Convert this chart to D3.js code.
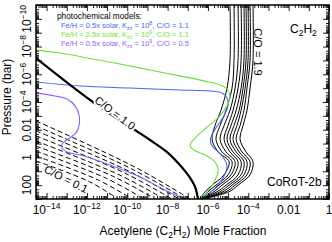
<!DOCTYPE html>
<html><head><meta charset="utf-8">
<script src="https://cdn.jsdelivr.net/npm/d3@7"></script>
<style>
html,body{margin:0;padding:0;background:#fff;}
svg{display:block;font-family:"Liberation Sans",Arial,Helvetica,sans-serif;}
</style></head>
<body><svg id="c" width="332" height="242"></svg>
<script>
// ---------------- data ----------------
const xTickVals = [1e-14, 1e-12, 1e-10, 1e-8, 1e-6, 1e-4, 1e-2, 1];
const xTickLabels = [["10","−14"],["10","−12"],["10","−10"],["10","−8"],["10","−6"],["10","−4"],["0.01",""],["1",""]];
const yTickVals = [1e-10, 1e-8, 1e-6, 1e-4, 1e-2, 1, 100];
const yTickLabels = [["10","−10"],["10","−8"],["10","−6"],["10","−4"],["0.01",""],["1",""],["100",""]];

// thick C/O = 1.0 equilibrium profile
const co10Mix = [3.0e-15, 2.0e-12, 2.4e-10, 1.35e-9, 9.4e-9, 3.3e-8, 1.03e-7, 2.3e-7, 3.2e-7];
const co10P   = [6.7e-8, 1e-4, 1.05e-2, 5.5e-2, 0.41, 2.5, 18.5, 136, 1000];

// C/O > 1 equilibrium profiles (1.1 ... 1.9), on a common pressure grid
const highCO = [1.1, 1.2, 1.3, 1.4, 1.5, 1.6, 1.7, 1.8, 1.9];
const highP = [1e-11, 1e-7, 1e-5, 4e-4, 5e-3, 5e-2, 0.4, 2, 18, 100, 300, 1000];
const highMix = [
  [1.24e-5, 1.24e-5, 8.8e-6, 4.4e-6, 2.24e-6, 1.6e-6, 3.2e-6, 1.11e-5, 6.3e-6, 1.6e-6, 7.2e-7, 4.0e-7],
  [1.96e-5, 1.96e-5, 1.56e-5, 7.9e-6, 4.0e-6, 2.5e-6, 5.0e-6, 1.56e-5, 9.9e-6, 2.5e-6, 1.0e-6, 4.0e-7],
  [3.1e-5, 3.1e-5, 2.2e-5, 1.24e-5, 6.3e-6, 4.0e-6, 7.9e-6, 2.2e-5, 1.39e-5, 3.5e-6, 1.42e-6, 4.5e-7],
  [4.4e-5, 4.4e-5, 3.1e-5, 1.75e-5, 9.9e-6, 6.3e-6, 1.24e-5, 3.1e-5, 1.96e-5, 5.0e-6, 2.0e-6, 4.5e-7],
  [6.1e-5, 6.1e-5, 4.4e-5, 2.5e-5, 1.39e-5, 8.8e-6, 1.75e-5, 4.4e-5, 3.1e-5, 7.9e-6, 2.8e-6, 4.5e-7],
  [7.7e-5, 7.7e-5, 5.5e-5, 3.5e-5, 1.96e-5, 1.24e-5, 2.5e-5, 6.1e-5, 4.4e-5, 1.11e-5, 4.0e-6, 5.1e-7],
  [9.7e-5, 9.7e-5, 6.9e-5, 4.4e-5, 2.75e-5, 1.75e-5, 3.5e-5, 8.6e-5, 6.1e-5, 1.56e-5, 5.6e-6, 5.1e-7],
  [1.22e-4, 1.22e-4, 8.6e-5, 6.1e-5, 3.9e-5, 2.5e-5, 4.9e-5, 1.22e-4, 8.6e-5, 2.2e-5, 7.9e-6, 5.1e-7],
  [1.71e-4, 1.71e-4, 1.22e-4, 8.6e-5, 5.5e-5, 3.9e-5, 7.7e-5, 1.71e-4, 1.22e-4, 3.1e-5, 1.11e-5, 5.7e-7]
];

// C/O < 1 equilibrium profiles (0.1 ... 0.9), dashed
const lowCO = [0.1, 0.2, 0.3, 0.4, 0.5, 0.6, 0.7, 0.8, 0.9];
const lowMix = [
  [3.0e-15, 1.32e-12, 3.5e-11],
  [3.0e-15, 3.7e-12, 1.73e-10],
  [3.0e-15, 9.1e-12, 6.8e-10],
  [3.0e-15, 2.1e-11, 2.4e-9],
  [3.0e-15, 4.0e-11, 6.7e-9],
  [3.0e-15, 7.3e-11, 1.66e-8],
  [3.0e-15, 1.22e-10, 3.7e-8],
  [3.0e-15, 1.9e-10, 7.3e-8],
  [3.0e-15, 2.75e-10, 1.29e-7]
];
const lowP = [
  [1.8, 56, 1000],
  [0.79, 43, 1000],
  [0.34, 32, 1000],
  [0.15, 24, 1000],
  [6.5e-2, 18, 1000],
  [2.8e-2, 13, 1000],
  [1.2e-2, 9.9, 1000],
  [5.4e-3, 7.4, 1000],
  [2.3e-3, 5.5, 1000]
];

// photochemical models
const blueMix = [3.0e-15, 4.6e-13, 1.37e-10, 4.1e-8, 1.26e-6, 5.0e-6, 8.8e-6, 9.9e-6, 6.3e-6, 2.5e-6, 1.42e-6, 1.42e-6, 2.5e-6, 5.6e-6, 8.8e-6, 6.3e-6, 2.24e-6, 8.0e-7, 5.1e-7];
const blueP   = [3.6e-6, 7.0e-6, 9.8e-6, 1.36e-5, 1.6e-5, 2.2e-5, 5.1e-5, 1.6e-4, 1.0e-3, 7.5e-3, 3.4e-2, 0.11, 0.29, 0.93, 4.2, 22, 161, 607, 1000];
const greenMix = [3.0e-15, 4.7e-14, 2.0e-12, 4.4e-11, 1.35e-9, 4.1e-8, 7.2e-7, 4.0e-6, 9.9e-6, 1.24e-5, 8.8e-6, 3.5e-6, 8.0e-7, 2.3e-7, 1.29e-7, 2.0e-7, 7.2e-7, 2.24e-6, 3.2e-6, 2.0e-6, 7.2e-7, 3.6e-7];
const greenP   = [1.8e-8, 2.9e-8, 7.9e-8, 1.8e-7, 4.9e-7, 1.3e-6, 3.1e-6, 5.9e-6, 1.36e-5, 4.4e-5, 1.9e-4, 1.2e-3, 7.5e-3, 4.0e-2, 0.13, 0.29, 0.67, 2.1, 8.1, 59, 436, 1000];
const purpleMix = [3.0e-15, 2.6e-14, 1.04e-13, 2.6e-13, 4.1e-13, 4.1e-13, 2.9e-13, 1.16e-13, 5.9e-14, 5.9e-14, 1.04e-13, 4.6e-13, 1.4e-11, 4.3e-10, 7.4e-9, 4.1e-8, 8.2e-8];
const purpleP   = [2.2e-5, 3.7e-5, 6.1e-5, 1.9e-4, 8.7e-4, 4.6e-3, 1.7e-2, 4.7e-2, 0.11, 0.21, 0.41, 0.67, 3.5, 26, 224, 718, 1000];

const legendLines = [
  {pre:"Fe/H = 0.5x solar, K", sub:"zz", mid:" = 10", sup:"8", post:", C/O = 1.1"},
  {pre:"Fe/H = 0.5x solar, K", sub:"zz", mid:" = 10", sup:"9", post:", C/O = 1.1"},
  {pre:"Fe/H = 0.5x solar, K", sub:"zz", mid:" = 10", sup:"9", post:", C/O = 0.5"}
];
const colors = {blue:"#4a66f0", green:"#6fe03a", purple:"#9060ff"};

// ---------------- chart ----------------
const svg = d3.select("#c");
const L=36, R=329, T=5, B=199;
const x = d3.scaleLog().domain([3e-15, 1]).range([L, R]);
const y = d3.scaleLog().domain([1e-11, 1e3]).range([T, B]);

svg.append("defs").append("clipPath").attr("id","clip")
  .append("rect").attr("x",L).attr("y",T).attr("width",R-L).attr("height",B-T);
const plot = svg.append("g").attr("clip-path","url(#clip)");

const line = d3.line().x(d=>x(d[0])).y(d=>y(d[1])).curve(d3.curveCatmullRom.alpha(0.5));
const zip = (a,b)=>a.map((v,i)=>[v,b[i]]);

lowMix.forEach((m,i)=>{
  plot.append("path").attr("d", line(zip(m, lowP[i])))
    .attr("fill","none").attr("stroke","#000").attr("stroke-width",1)
    .attr("stroke-dasharray","5,3");
});
highMix.forEach(m=>{
  plot.append("path").attr("d", line(zip(m, highP)))
    .attr("fill","none").attr("stroke","#000").attr("stroke-width",1);
});
[[blueMix,blueP,colors.blue],[greenMix,greenP,colors.green],[purpleMix,purpleP,colors.purple]].forEach(([m,p,c])=>{
  plot.append("path").attr("d", line(zip(m,p)))
    .attr("fill","none").attr("stroke",c).attr("stroke-width",1.1);
});
plot.append("path").attr("d", line(zip(co10Mix, co10P)))
  .attr("fill","none").attr("stroke","#000").attr("stroke-width",2.2);

svg.append("text").attr("transform","translate(115,113) rotate(37)")
  .attr("text-anchor","middle").attr("dy","0.35em").attr("font-size",11)
  .attr("stroke","#fff").attr("stroke-width",4).attr("paint-order","stroke")
  .attr("fill","#000").text("C/O = 1.0");
svg.append("text").attr("transform","translate(66,179) rotate(27)")
  .attr("text-anchor","middle").attr("dy","0.35em").attr("font-size",11)
  .attr("fill","#000").text("C/O = 0.1");
svg.append("text").attr("transform","translate(258,52) rotate(90)")
  .attr("text-anchor","middle").attr("dy","0.35em").attr("font-size",11)
  .attr("fill","#000").text("C/O = 1.9");

const c2 = svg.append("text").attr("x",290).attr("y",33).attr("font-size",12).attr("fill","#000");
c2.append("tspan").text("C");
c2.append("tspan").attr("dy",3).attr("font-size",8.5).text("2");
c2.append("tspan").attr("dy",-3).text("H");
c2.append("tspan").attr("dy",3).attr("font-size",8.5).text("2");
svg.append("text").attr("x",267).attr("y",186).attr("font-size",12).attr("fill","#000").text("CoRoT-2b");

svg.append("text").attr("x",57).attr("y",19).attr("font-size",8.3).attr("fill","#000").text("photochemical models:");
[colors.blue, colors.green, colors.purple].forEach((c,i)=>{
  const d = legendLines[i];
  const t = svg.append("text").attr("x",61).attr("y",28+9*i).attr("font-size",7.5).attr("fill",c);
  t.append("tspan").text(d.pre);
  t.append("tspan").attr("dy",2).attr("font-size",5.4).text(d.sub);
  t.append("tspan").attr("dy",-2).text(d.mid);
  t.append("tspan").attr("dy",-3).attr("font-size",5.4).text(d.sup);
  t.append("tspan").attr("dy",3).text(d.post);
});

const decades = (dom)=>{ const lo=Math.ceil(Math.log10(dom[0])-1e-9), hi=Math.floor(Math.log10(dom[1])+1e-9); const o=[]; for(let e=lo;e<=hi;e++) o.push(e); return o; };
const majorVals = (dom)=>decades(dom).map(e=>Math.pow(10,e));
const minorVals = (dom)=>{
  const out=[]; const lo=Math.floor(Math.log10(dom[0])), hi=Math.ceil(Math.log10(dom[1]));
  for(let e=lo;e<hi;e++) for(let k=2;k<10;k++){ const v=k*Math.pow(10,e); if(v>=dom[0] && v<=dom[1]) out.push(v);} return out;
};
function ax(gen, tr, vals, size){
  svg.append("g").attr("transform",tr).call(gen.tickValues(vals).tickSize(size).tickFormat("").tickSizeOuter(0))
    .call(g=>{g.select(".domain").remove(); g.selectAll("line").attr("stroke","#000").attr("stroke-width",0.9);});
}
ax(d3.axisBottom(x), `translate(0,${B})`, minorVals(x.domain()), -3);
ax(d3.axisBottom(x), `translate(0,${B})`, majorVals(x.domain()), -6);
ax(d3.axisTop(x), `translate(0,${T})`, minorVals(x.domain()), -3);
ax(d3.axisTop(x), `translate(0,${T})`, majorVals(x.domain()), -6);
ax(d3.axisLeft(y), `translate(${L},0)`, minorVals(y.domain()), -3);
ax(d3.axisLeft(y), `translate(${L},0)`, majorVals(y.domain()), -6);
ax(d3.axisRight(y), `translate(${R},0)`, minorVals(y.domain()), -3);
ax(d3.axisRight(y), `translate(${R},0)`, majorVals(y.domain()), -6);

svg.append("rect").attr("x",L).attr("y",T).attr("width",R-L).attr("height",B-T)
  .attr("fill","none").attr("stroke","#000").attr("stroke-width",1.5);

xTickVals.forEach((v,i)=>{
  const t = svg.append("text").attr("x",x(v)).attr("y",214).attr("text-anchor","middle").attr("font-size",12).attr("fill","#000");
  t.append("tspan").text(xTickLabels[i][0]);
  if(xTickLabels[i][1]) t.append("tspan").attr("dy",-5).attr("font-size",8.5).text(xTickLabels[i][1]);
});
yTickVals.forEach((v,i)=>{
  const t = svg.append("text").attr("transform",`translate(31,${y(v)}) rotate(-90)`).attr("text-anchor","middle").attr("font-size",12).attr("fill","#000");
  t.append("tspan").text(yTickLabels[i][0]);
  if(yTickLabels[i][1]) t.append("tspan").attr("dy",-5).attr("font-size",8.5).text(yTickLabels[i][1]);
});

svg.append("text").attr("transform","translate(11,97) rotate(-90)").attr("text-anchor","middle").attr("font-size",12).attr("fill","#000").text("Pressure (bar)");
const xt = svg.append("text").attr("x",183).attr("y",235).attr("text-anchor","middle").attr("font-size",12).attr("fill","#000");
xt.append("tspan").text("Acetylene (C");
xt.append("tspan").attr("dy",3).attr("font-size",8.5).text("2");
xt.append("tspan").attr("dy",-3).text("H");
xt.append("tspan").attr("dy",3).attr("font-size",8.5).text("2");
xt.append("tspan").attr("dy",-3).text(") Mole Fraction");
</script></body></html>
